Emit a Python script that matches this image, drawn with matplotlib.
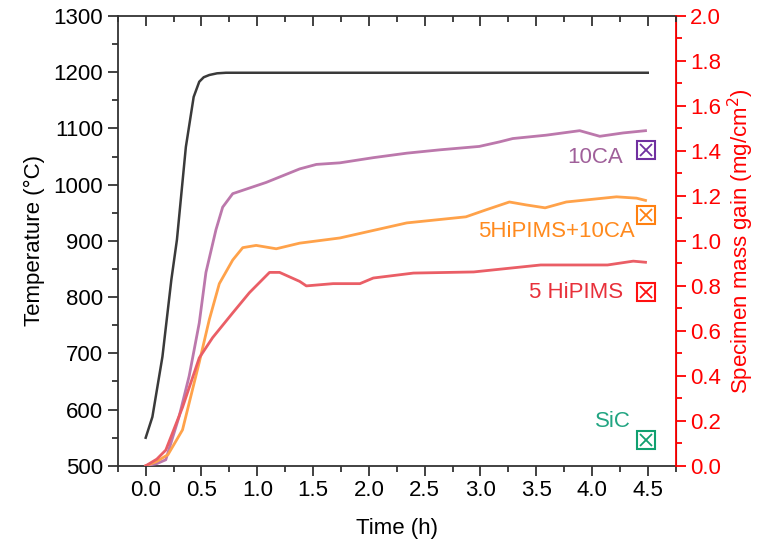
import numpy as np
import matplotlib.pyplot as plt
from matplotlib.ticker import MultipleLocator

plt.rcParams['font.family'] = ['Liberation Sans', 'DejaVu Sans']
plt.rcParams['font.size'] = 16

# furnace temperature (left axis)
t_temp = [0.0, 0.06, 0.15, 0.23, 0.28, 0.36, 0.43, 0.48, 0.52, 0.57, 0.64, 0.72, 1.0, 2.0, 3.0, 4.0, 4.5]
temp = [550, 587, 694, 831, 902, 1067, 1156, 1183, 1191, 1195, 1198, 1199, 1199, 1199, 1199, 1199, 1199]

# mass gain curves (right axis)
t_10ca = [0.0, 0.1, 0.18, 0.3, 0.39, 0.48, 0.54, 0.63, 0.69, 0.78, 0.93, 1.08, 1.23, 1.38, 1.53,
          1.74, 2.04, 2.34, 2.64, 2.99, 3.17, 3.29, 3.59, 3.89, 4.07, 4.28, 4.48]
m_10ca = [0.0, 0.01, 0.027, 0.22, 0.40, 0.635, 0.86, 1.05, 1.15, 1.21, 1.235, 1.26, 1.29, 1.32, 1.34,
          1.347, 1.37, 1.39, 1.405, 1.42, 1.44, 1.455, 1.47, 1.49, 1.465, 1.48, 1.49]

t_mix = [0.0, 0.1, 0.2, 0.33, 0.48, 0.57, 0.66, 0.78, 0.87, 0.99, 1.17, 1.38, 1.74, 2.34, 2.87,
         3.05, 3.26, 3.41, 3.58, 3.77, 4.22, 4.4, 4.48]
m_mix = [0.0, 0.02, 0.05, 0.16, 0.46, 0.65, 0.81, 0.915, 0.97, 0.98, 0.965, 0.99, 1.013, 1.08, 1.107,
         1.138, 1.173, 1.16, 1.147, 1.173, 1.196, 1.19, 1.18]

t_hip = [0.0, 0.1, 0.18, 0.33, 0.48, 0.6, 0.78, 0.93, 1.11, 1.2, 1.38, 1.44, 1.68, 1.92, 2.04,
         2.4, 2.94, 3.54, 4.14, 4.37, 4.48]
m_hip = [0.0, 0.03, 0.07, 0.26, 0.48, 0.57, 0.68, 0.77, 0.86, 0.86, 0.82, 0.80, 0.81, 0.81, 0.835,
         0.857, 0.862, 0.893, 0.893, 0.91, 0.905]

# final weighed mass gain
names = ['10CA', '5HiPIMS+10CA', '5 HiPIMS', 'SiC']
final_t = [4.48, 4.48, 4.48, 4.48]
final_m = [1.404, 1.115, 0.775, 0.115]
label_x = [4.28, 4.38, 4.28, 4.35]
label_y = [1.369, 1.044, 0.769, 0.196]

line_colors = ['#BC78AC', '#FFA24A', '#EA5E66']
text_colors = ['#A0609A', '#FF8A1E', '#E8303A', '#22A582']
mark_colors = ['#7030A0', '#FF8010', '#FF1010', '#10A070']

rect = [0.155, 0.153, 0.734, 0.818]
fig = plt.figure(figsize=(7.6, 5.5), dpi=100)
ax = fig.add_axes(rect)
ax2 = ax.twinx()

ax.plot(t_temp, temp, color='#3a3a3a', lw=1.8)
ax.set_xlim(-0.25, 4.75)
ax.set_ylim(500, 1300)
ax.set_xlabel('Time (h)', labelpad=12)
ax.set_ylabel('Temperature (°C)', labelpad=6)
ax.set_xticks(np.arange(0, 4.51, 0.5))
ax.set_xticklabels([f'{v:.1f}' for v in np.arange(0, 4.51, 0.5)])
ax.xaxis.set_minor_locator(MultipleLocator(0.25))
ax.yaxis.set_major_locator(MultipleLocator(100))
ax.yaxis.set_minor_locator(MultipleLocator(50))
ax.tick_params(which='both', direction='out', color='#333333', top=False, width=1.3)
ax.tick_params(which='major', length=7)
ax.tick_params(which='minor', length=4.5)
for s in ['left', 'bottom', 'top']:
    ax.spines[s].set_color('#333333')
    ax.spines[s].set_linewidth(1.3)

ax2.plot(t_10ca, m_10ca, color=line_colors[0], lw=2)
ax2.plot(t_mix, m_mix, color=line_colors[1], lw=2)
ax2.plot(t_hip, m_hip, color=line_colors[2], lw=2)
for i in range(len(names)):
    ax2.plot(final_t[i], final_m[i], marker='s', ms=13, mfc='none', mec=mark_colors[i], mew=1.5)
    ax2.plot(final_t[i], final_m[i], marker='x', ms=9, color=mark_colors[i], mew=1.3)
    ax2.text(label_x[i], label_y[i], names[i], color=text_colors[i], ha='right', va='center')

ax2.set_ylim(0, 2.0)
ax2.yaxis.set_major_locator(MultipleLocator(0.2))
ax2.yaxis.set_minor_locator(MultipleLocator(0.1))
ax2.set_ylabel('Specimen mass gain (mg/cm$^2$)', color='red', labelpad=3)
ax2.tick_params(axis='y', which='both', direction='out', colors='red', width=1.3)
ax2.tick_params(axis='y', which='major', length=7)
ax2.tick_params(axis='y', which='minor', length=4.5)
ax2.spines['right'].set_color('red')
ax2.spines['right'].set_linewidth(1.3)
ax2.spines['left'].set_visible(False)
ax2.spines['top'].set_visible(False)
ax2.spines['bottom'].set_visible(False)

# separate frameless axes only for the inward ticks on the top edge
ax3 = fig.add_axes(rect, frameon=False)
ax3.set_xlim(-0.25, 4.75)
ax3.xaxis.set_major_locator(MultipleLocator(0.5))
ax3.xaxis.set_minor_locator(MultipleLocator(0.25))
ax3.xaxis.tick_top()
ax3.tick_params(axis='x', which='both', direction='in', labeltop=False, color='#333333', width=1.3)
ax3.tick_params(axis='x', which='major', length=7)
ax3.tick_params(axis='x', which='minor', length=4.5)
ax3.set_yticks([])

fig.savefig('out.png', dpi=100)
